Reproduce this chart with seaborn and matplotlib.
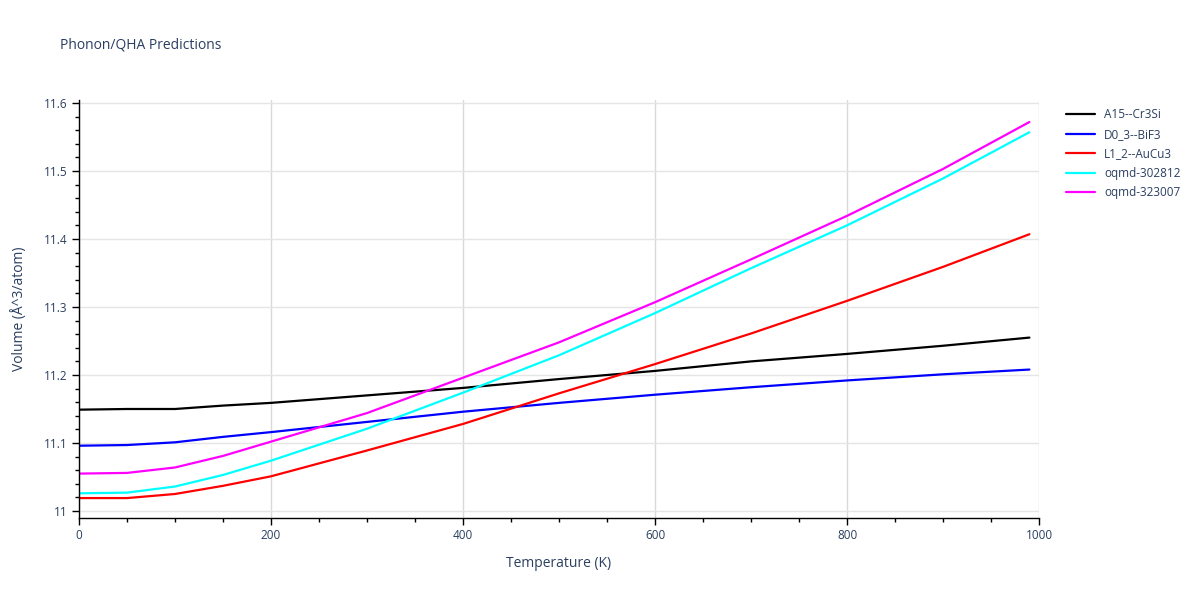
import numpy as np
import pandas as pd
import matplotlib
matplotlib.use("Agg")
import matplotlib.pyplot as plt
import seaborn as sns

# Values (temperature in K, volume in A^3/atom)
temps = [0, 50, 100, 150, 200, 300, 400, 500, 600, 700, 800, 900, 990]

a15_cr3si = [11.149, 11.150, 11.150, 11.155, 11.159, 11.170, 11.181, 11.194, 11.206, 11.220, 11.231, 11.243, 11.255]
d0_3_bif3 = [11.096, 11.097, 11.101, 11.109, 11.116, 11.131, 11.146, 11.159, 11.171, 11.182, 11.192, 11.201, 11.208]
l1_2_aucu3 = [11.019, 11.019, 11.025, 11.037, 11.051, 11.089, 11.128, 11.173, 11.216, 11.261, 11.309, 11.359, 11.407]
oqmd_302812 = [11.026, 11.027, 11.036, 11.053, 11.074, 11.121, 11.174, 11.229, 11.291, 11.357, 11.420, 11.489, 11.557]
oqmd_323007 = [11.055, 11.056, 11.064, 11.081, 11.102, 11.144, 11.196, 11.248, 11.307, 11.370, 11.434, 11.503, 11.572]

names = ["A15--Cr3Si", "D0_3--BiF3", "L1_2--AuCu3", "oqmd-302812", "oqmd-323007"]
colors = ["black", "blue", "red", "cyan", "magenta"]

series = [a15_cr3si, d0_3_bif3, l1_2_aucu3, oqmd_302812, oqmd_323007]
df = pd.concat(
    [pd.DataFrame({"Temperature": temps, "Volume": v, "name": n}) for n, v in zip(names, series)],
    ignore_index=True,
)

sns.set_style("white")
plt.rcParams["font.family"] = ["Open Sans", "DejaVu Sans"]
text_col = "#2a3f5f"

fig = plt.figure(figsize=(12, 6), dpi=100)
ax = fig.add_axes([79 / 1200, 1 - 518 / 600, 960 / 1200, 418 / 600])

sns.lineplot(data=df, x="Temperature", y="Volume", hue="name",
             palette=dict(zip(names, colors)), linewidth=1.6, ax=ax)

ax.set_xlim(0, 1000)
ax.set_ylim(10.9897, 11.6044)
ax.set_xticks([0, 200, 400, 600, 800, 1000])
ax.set_xticks(np.arange(0, 1001, 50), minor=True)
ax.set_yticks([11, 11.1, 11.2, 11.3, 11.4, 11.5, 11.6])
ax.set_yticklabels(["11", "11.1", "11.2", "11.3", "11.4", "11.5", "11.6"])
ax.set_yticks(np.arange(11, 11.601, 0.02), minor=True)

ax.grid(True, which="major", axis="x", color="#d9d9d9", linewidth=1)
ax.grid(True, which="major", axis="y", color="#e5e5e5", linewidth=1)
ax.set_axisbelow(True)

for s in ["top", "right"]:
    ax.spines[s].set_visible(False)
for s in ["left", "bottom"]:
    ax.spines[s].set_color("black")
    ax.spines[s].set_linewidth(1)

ax.tick_params(axis="both", which="major", direction="out", length=5, width=1,
               color="black", labelsize=8.5, labelcolor=text_col, pad=3)
ax.tick_params(axis="both", which="minor", direction="out", length=3, width=1, color="black")
ax.tick_params(axis="x", which="both", bottom=True)
ax.tick_params(axis="y", which="both", left=True)

ax.set_xlabel("Temperature (K)", fontsize=10, color=text_col, labelpad=10)
ax.set_ylabel("Volume (Å^3/atom)", fontsize=10, color=text_col, labelpad=12)

leg = ax.legend(loc="upper left", bbox_to_anchor=(1.02, 1.0), frameon=False,
                fontsize=8.5, handlelength=2.4, labelspacing=0.55, borderaxespad=0.3)
for t in leg.get_texts():
    t.set_color(text_col)
for line in leg.get_lines():
    line.set_linewidth(1.6)

fig.text(60 / 1200, 1 - 45 / 600, "Phonon/QHA Predictions", fontsize=10,
         color=text_col, va="center", ha="left")

fig.savefig("out.png", dpi=100)
